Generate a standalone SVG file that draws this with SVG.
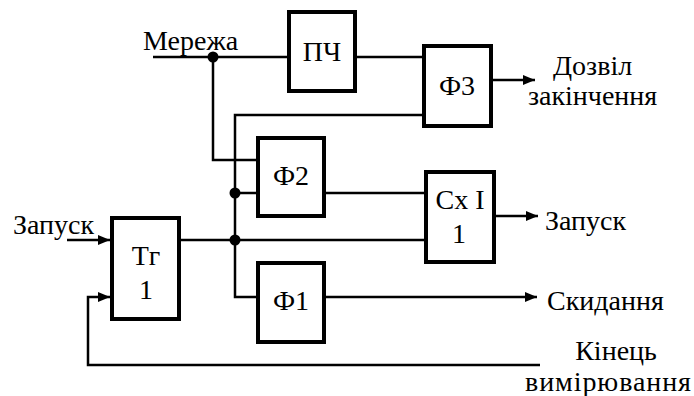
<svg xmlns="http://www.w3.org/2000/svg" width="694" height="396" viewBox="0 0 694 396">
<defs>
<marker id="arr" markerUnits="userSpaceOnUse" markerWidth="12" markerHeight="10" refX="12" refY="5" orient="auto">
<path d="M0,0 L12,5 L0,10 z" fill="#000"/>
</marker>
<style>
.box{fill:#fff;stroke:#000;stroke-width:4}
.w{fill:none;stroke:#000;stroke-width:2.5}
.a{marker-end:url(#arr)}
.t{font-family:'Liberation Serif','DejaVu Serif',serif;font-size:28px;fill:#000}
.c{text-anchor:middle}
</style>
</defs>
<rect width="694" height="396" fill="#fff"/>
<g id="connectors">
<path class="w" d="M153,57 H289"/>
<path class="w" d="M355,57 H424"/>
<path class="w" d="M213,57 V160 H258"/>
<path class="w" d="M424,115 H235 V297 H258"/>
<path class="w" d="M235,193 H258"/>
<path class="w" d="M324,193 H426"/>
<path class="w" d="M179,240 H426"/>
<path class="w a" d="M491,80 H535"/>
<path class="w a" d="M494,216 H538"/>
<path class="w a" d="M324,297 H537"/>
<path class="w a" d="M67,240 H110"/>
<path class="w a" d="M540,365 H88 V297 H110"/>
<circle cx="213" cy="57" r="5.5"/>
<circle cx="235" cy="193" r="5.5"/>
<circle cx="235" cy="240" r="5.5"/>
</g>
<g id="pch"><rect class="box" x="289" y="12" width="66" height="79"/><text class="t c" x="322" y="61">ПЧ</text></g>
<g id="f3"><rect class="box" x="424" y="46" width="67" height="80"/><text class="t c" x="457" y="95">Ф3</text></g>
<g id="f2"><rect class="box" x="258" y="138" width="66" height="78"/><text class="t c" x="291" y="185">Ф2</text></g>
<g id="cx"><rect class="box" x="426" y="172" width="68" height="90"/><text class="t c" x="460" y="209">Cx I</text><text class="t c" x="459" y="243">1</text></g>
<g id="tg"><rect class="box" x="112" y="218" width="67" height="101"/><text class="t c" x="146" y="265">Тг</text><text class="t c" x="146" y="299">1</text></g>
<g id="f1"><rect class="box" x="258" y="263" width="66" height="79"/><text class="t c" x="291" y="310">Ф1</text></g>
<g id="labels">
<text class="t" x="143" y="50">Мережа</text>
<text class="t" x="13" y="234">Запуск</text>
<text class="t" x="553" y="75">Дозвіл</text>
<text class="t" x="528" y="105">закінчення</text>
<text class="t" x="545" y="230">Запуск</text>
<text class="t" x="547" y="310">Скидання</text>
<text class="t c" x="616" y="360">Кінець</text>
<text class="t" x="525" y="391" textLength="166" lengthAdjust="spacing">вимірювання</text>
</g>
</svg>
